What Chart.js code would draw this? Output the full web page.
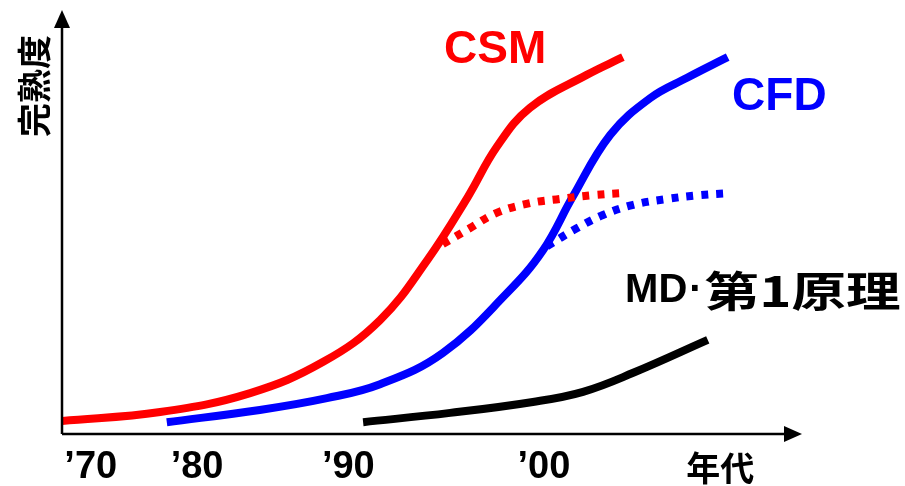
<!DOCTYPE html>
<html>
<head>
<meta charset="utf-8">
<script src="https://cdn.jsdelivr.net/npm/chart.js@4.4.1/dist/chart.umd.min.js"></script>
<style>
  html, body { margin: 0; padding: 0; background: #fff; }
  #wrap { width: 905px; height: 486px; }
</style>
</head>
<body>
<div id="wrap"><canvas id="c" width="905" height="486"></canvas></div>
<script>
// x = position along the time axis (0..100), y = maturity (0..100)
const csmX = [0, 13.3, 25.5, 35.4, 43.1, 49.5, 55.0, 58.9, 63.4, 71.1, 76.0];
const csmY = [3.1, 5.2, 9.7, 17.1, 27.0, 41.2, 56.2, 68.0, 77.3, 85.1, 89.3];
const csmDotX = [51.6, 55.3, 58.9, 63.4, 67.5, 72.0, 76.0];
const csmDotY = [45.0, 48.8, 52.4, 54.7, 55.7, 56.6, 57.1];

const cfdX = [14.2, 26.8, 35.9, 43.1, 51.6, 60.3, 65.2, 69.2, 74.3, 79.7, 84.7, 90.2];
const cfdY = [2.8, 5.7, 8.5, 11.8, 19.2, 33.4, 43.6, 56.2, 70.9, 79.6, 84.4, 89.3];
const cfdDotX = [65.7, 69.8, 73.3, 77.4, 82.0, 86.4, 90.5];
const cfdDotY = [44.5, 48.8, 51.9, 54.3, 55.7, 56.6, 57.1];

const mdX = [40.8, 52.6, 63.8, 70.6, 77.4, 87.5];
const mdY = [2.8, 5.0, 7.6, 10.0, 14.5, 22.3];

const tickPos = [3.9, 18.3, 38.8, 65.3, 89.2];
const tickLabels = ['\u201970', '\u201980', '\u201990', '\u201900', '年代'];

const seriesLabels = [
  { text: 'CSM', x: 58.7, y: 91.0, color: '#ff0000' },
  { text: 'CFD', x: 97.2, y: 79.9, color: '#0000ff' }
];
const mdLabel = { latin: 'MD', dot: '\u00b7', cjk: '第1原理', x: 76.3, y: 33.9 };

const pts = (xs, ys) => xs.map((x, i) => ({ x: x, y: ys[i] }));

const LATIN = "Arial, 'Liberation Sans', sans-serif";
const CJK = "'Noto Sans CJK JP', sans-serif";

const line = (data, color, dashed) => ({
  data: data,
  borderColor: color,
  borderWidth: 8,
  borderDash: dashed ? [7, 8] : [],
  borderCapStyle: 'butt',
  pointRadius: 0,
  fill: false,
  tension: 0.4
});

const decorations = {
  id: 'decorations',
  afterDraw(chart) {
    const ctx = chart.ctx;
    const a = chart.chartArea;
    const xs = chart.scales.x, ys = chart.scales.y;
    ctx.save();
    ctx.strokeStyle = '#000';
    ctx.fillStyle = '#000';
    ctx.lineWidth = 2.5;
    // y axis
    ctx.beginPath();
    ctx.moveTo(a.left, a.bottom);
    ctx.lineTo(a.left, a.top + 14);
    ctx.stroke();
    ctx.beginPath();
    ctx.moveTo(a.left, a.top - 2);
    ctx.lineTo(a.left - 8, a.top + 16);
    ctx.lineTo(a.left + 8, a.top + 16);
    ctx.closePath();
    ctx.fill();
    // x axis
    ctx.beginPath();
    ctx.moveTo(a.left, a.bottom);
    ctx.lineTo(a.right - 14, a.bottom);
    ctx.stroke();
    ctx.beginPath();
    ctx.moveTo(a.right + 2, a.bottom);
    ctx.lineTo(a.right - 16, a.bottom - 8);
    ctx.lineTo(a.right - 16, a.bottom + 8);
    ctx.closePath();
    ctx.fill();

    // tick labels
    ctx.textAlign = 'center';
    ctx.textBaseline = 'middle';
    tickPos.forEach((p, i) => {
      const t = tickLabels[i];
      ctx.font = /[\u4e00-\u9fff]/.test(t) ? 'bold 34px ' + CJK : 'bold 38px ' + LATIN;
      ctx.fillText(t, xs.getPixelForValue(p), a.bottom + 34);
    });

    // y title
    ctx.save();
    ctx.translate(a.left - 28, a.top + 74);
    ctx.rotate(-Math.PI / 2);
    ctx.font = 'bold 34px ' + CJK;
    ctx.fillText('完熟度', 0, 0);
    ctx.restore();

    // series labels
    ctx.font = 'bold 46px ' + LATIN;
    seriesLabels.forEach(l => {
      ctx.fillStyle = l.color;
      ctx.fillText(l.text, xs.getPixelForValue(l.x), ys.getPixelForValue(l.y));
    });

    // MD label: latin part, small dot, wide CJK part
    ctx.fillStyle = '#000';
    ctx.textAlign = 'left';
    let x = xs.getPixelForValue(mdLabel.x);
    const y = ys.getPixelForValue(mdLabel.y);
    ctx.font = 'bold 40px ' + LATIN;
    ctx.fillText(mdLabel.latin, x, y);
    x += ctx.measureText(mdLabel.latin).width + 2;
    ctx.fillText(mdLabel.dot, x, y);
    x += ctx.measureText(mdLabel.dot).width + 2;
    ctx.save();
    ctx.translate(x, y);
    ctx.scale(1.3, 1);
    ctx.font = 'bold 42px ' + CJK;
    ctx.fillText(mdLabel.cjk, 0, 0);
    ctx.restore();
    ctx.restore();
  }
};

new Chart(document.getElementById('c'), {
  type: 'line',
  data: {
    datasets: [
      line(pts(csmX, csmY), '#ff0000', false),
      line(pts(csmDotX, csmDotY), '#ff0000', true),
      line(pts(cfdX, cfdY), '#0000ff', false),
      line(pts(cfdDotX, cfdDotY), '#0000ff', true),
      line(pts(mdX, mdY), '#000000', false)
    ]
  },
  options: {
    responsive: false,
    animation: false,
    layout: { padding: { left: 62, right: 105, top: 12, bottom: 52 } },
    plugins: { legend: { display: false }, tooltip: { enabled: false } },
    scales: {
      x: { type: 'linear', min: 0, max: 100, display: false },
      y: { type: 'linear', min: 0, max: 100, display: false }
    }
  },
  plugins: [decorations]
});
</script>
</body>
</html>
